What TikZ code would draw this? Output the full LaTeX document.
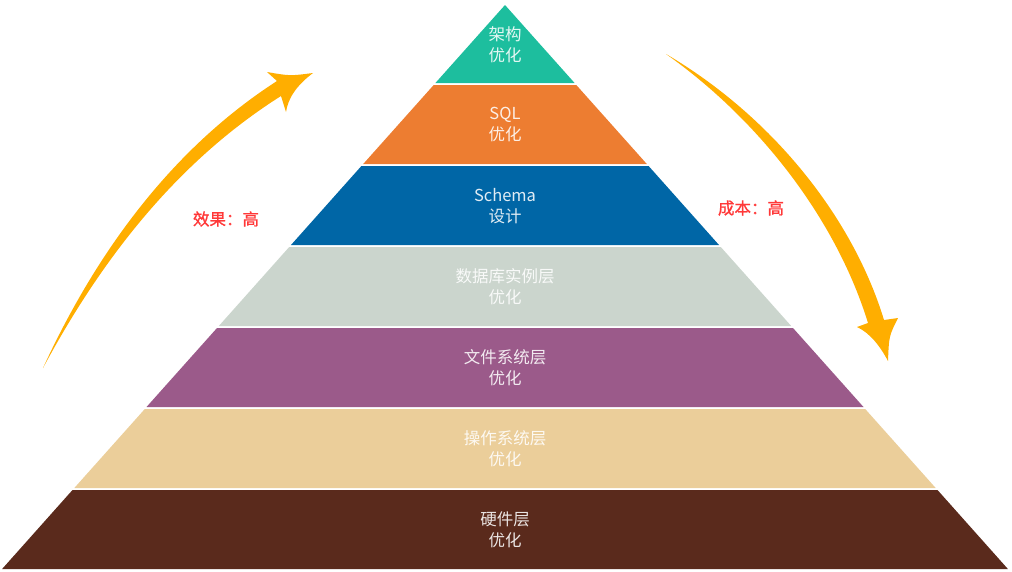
\documentclass[tikz,border=0pt]{standalone}
\usepackage{fontspec}
\setmainfont{Noto Sans CJK SC}
\newfontfamily\sidefont[FakeBold=1.2]{Noto Sans CJK SC}
\definecolor{jiagou}{HTML}{1DBE9E}
\definecolor{sqlorange}{HTML}{ED7D31}
\definecolor{schemablue}{HTML}{0066A6}
\definecolor{shiligray}{HTML}{CBD5CD}
\definecolor{wenjianpurple}{HTML}{9B5A8A}
\definecolor{caozuotan}{HTML}{EBCE9A}
\definecolor{yingjianbrown}{HTML}{5A2A1C}
\definecolor{arroworange}{HTML}{FFAE00}
\definecolor{labelred}{HTML}{FF3838}
\begin{document}
\begin{tikzpicture}[x=1pt, y=-1pt,
    layertext/.style={align=center, text=white, text opacity=0.88, font=\fontsize{16.5}{21}\selectfont},
    sidetext/.style={text=labelred, font=\sidefont\fontsize{16.5}{18}\selectfont}]
    \useasboundingbox (0,0) rectangle (1012,571);
    % pyramid layers
    \fill[jiagou] (505,5) -- (574.6,83) -- (435.4,83) -- cycle;
    \fill[sqlorange] (433.7,85) -- (576.3,85) -- (646.8,164) -- (363.2,164) -- cycle;
    \fill[schemablue] (361.4,166) -- (648.6,166) -- (719.0,245) -- (291.0,245) -- cycle;
    \fill[shiligray] (289.2,247) -- (720.8,247) -- (791.2,326) -- (218.8,326) -- cycle;
    \fill[wenjianpurple] (217.0,328) -- (793.0,328) -- (863.5,407) -- (146.5,407) -- cycle;
    \fill[caozuotan] (144.8,409) -- (865.2,409) -- (935.7,488) -- (74.3,488) -- cycle;
    \fill[yingjianbrown] (72.5,490) -- (937.5,490) -- (1007.9,569) -- (2.1,569) -- cycle;
    % layer labels
    \node[layertext] (l1) at (505,45) {架构\\优化};
    \node[layertext] (l2) at (505,125) {SQL\\优化};
    \node[layertext] (l3) at (505,206) {Schema\\设计};
    \node[layertext] (l4) at (505,287) {数据库实例层\\优化};
    \node[layertext] (l5) at (505,368) {文件系统层\\优化};
    \node[layertext] (l6) at (505,449) {操作系统层\\优化};
    \node[layertext] (l7) at (505,530) {硬件层\\优化};
    % side arrows
    \fill[arroworange] (43,368) .. controls (95,255) and (170,150) .. (277,81)
        -- (267,72) .. controls (290,76) .. (313,73)
        .. controls (297,85) and (288,98) .. (286,112)
        -- (281,96) .. controls (175,163) and (100,262) .. (43,368) -- cycle;
    \fill[arroworange] (666,54) .. controls (770,115) and (852,215) .. (884,320)
        -- (898,318) .. controls (889,336) .. (888,361)
        .. controls (880,346) and (870,333) .. (857,327)
        -- (868,323) .. controls (837,222) and (762,122) .. (666,54) -- cycle;
    \node[sidetext] (xiaoguo) at (226,219) {效果：高};
    \node[sidetext] (chengben) at (751,208) {成本：高};
\end{tikzpicture}
\end{document}
